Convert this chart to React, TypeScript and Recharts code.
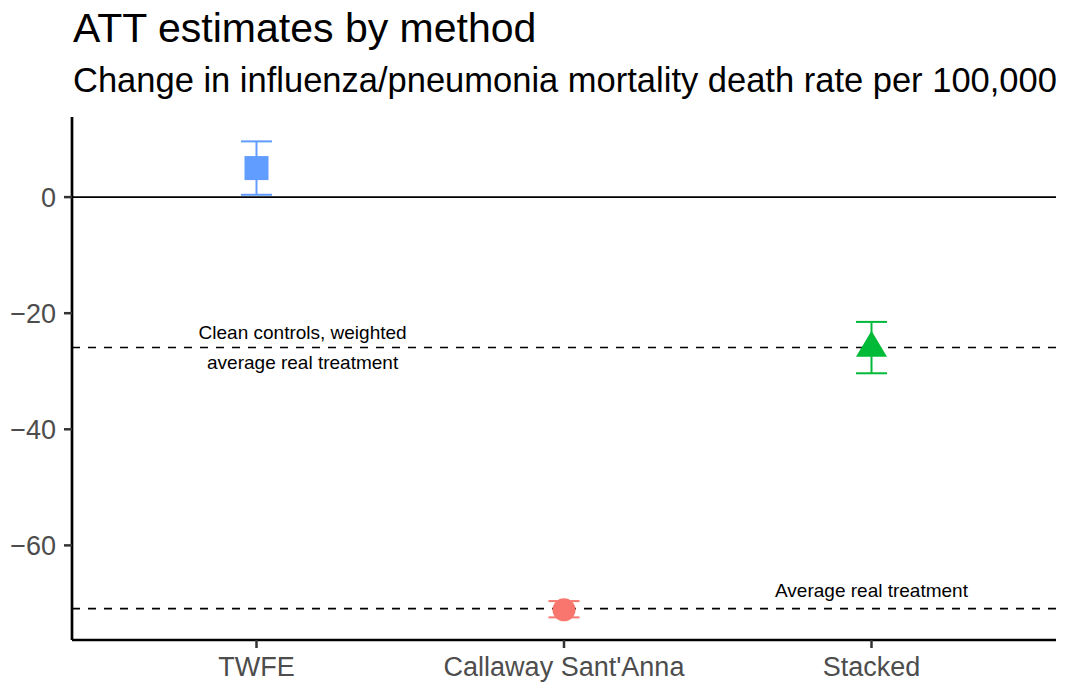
import React from 'react';
import { ComposedChart, Scatter, XAxis, YAxis, ReferenceLine, ErrorBar } from 'recharts';

// values
const methods = ['TWFE', "Callaway Sant'Anna", 'Stacked'];
const estimates = [5.0, -71.1, -26.0];
const lowerCI = [0.4, -72.4, -30.35];
const upperCI = [9.6, -69.6, -21.5];
const colors = ['#619CFF', '#F8766D', '#00BA38'];
const yTicks = [-60, -40, -20, 0];
const cleanControlsATT = -25.9;
const averageRealATT = -70.9;
const annotations = [
  { x: 1.15, y: -23.4, text: 'Clean controls, weighted' },
  { x: 1.15, y: -28.5, text: 'average real treatment' },
  { x: 3, y: -67.8, text: 'Average real treatment' },
];

const FONT = '"Liberation Sans", Arial, Helvetica, sans-serif';

const seriesData = methods.map((m, i) => [
  {
    x: i + 1,
    y: estimates[i],
    err: [estimates[i] - lowerCI[i], upperCI[i] - estimates[i]],
  },
]);

const makeShape = (idx: number) => (props: any) => {
  const { cx, cy } = props;
  const c = colors[idx];
  if (idx === 0) return <rect x={cx - 12} y={cy - 12} width={24} height={24} fill={c} />;
  if (idx === 1) return <circle cx={cx} cy={cy} r={11.5} fill={c} />;
  const h = 26;
  const w = 31;
  const pts = `${cx},${cy - (2 * h) / 3} ${cx + w / 2},${cy + h / 3} ${cx - w / 2},${cy + h / 3}`;
  return <polygon points={pts} fill={c} />;
};

const AnnotationText = (props: any) => {
  const { cx, cy, payload } = props;
  return (
    <text x={cx} y={cy} textAnchor="middle" dominantBaseline="central" fontSize={19} fill="#000" fontFamily={FONT}>
      {payload.text}
    </text>
  );
};

const fmtY = (v: number) => (v < 0 ? '\u2212' + Math.abs(v) : String(v));

export default function App() {
  return (
    <div style={{ position: 'absolute', left: 0, top: 0, width: 1066, height: 683, background: '#fff', fontFamily: FONT }}>
      <ComposedChart width={1066} height={683} margin={{ top: 117, right: 10, bottom: 0, left: 0 }}>
        <XAxis
          type="number"
          dataKey="x"
          domain={[0.4, 3.6]}
          ticks={[1, 2, 3]}
          interval={0}
          tickFormatter={(v: number) => methods[v - 1]}
          height={43}
          axisLine={{ stroke: '#000', strokeWidth: 2.7 }}
          tickLine={{ stroke: '#333', strokeWidth: 2.5 }}
          tickSize={8}
          tickMargin={9}
          tick={{ fill: '#4D4D4D', fontSize: 27 }}
        />
        <YAxis
          type="number"
          dataKey="y"
          domain={[-76.3, 13.8]}
          ticks={yTicks}
          interval={0}
          tickFormatter={fmtY}
          width={72}
          axisLine={{ stroke: '#000', strokeWidth: 2.7 }}
          tickLine={{ stroke: '#333', strokeWidth: 2.5 }}
          tickSize={8}
          tickMargin={8}
          tick={{ fill: '#4D4D4D', fontSize: 27 }}
        />
        <ReferenceLine y={0} stroke="#000" strokeWidth={1.6} />
        <ReferenceLine y={cleanControlsATT} stroke="#000" strokeWidth={1.6} strokeDasharray="8 8" />
        <ReferenceLine y={averageRealATT} stroke="#000" strokeWidth={1.6} strokeDasharray="8 8" />
        {seriesData.map((d, i) => (
          <Scatter key={methods[i]} data={d} dataKey="y" fill={colors[i]} shape={makeShape(i)} isAnimationActive={false}>
            <ErrorBar dataKey="err" direction="y" width={15.5} stroke={colors[i]} strokeWidth={2} isAnimationActive={false} />
          </Scatter>
        ))}
        <Scatter data={annotations} dataKey="y" shape={AnnotationText} isAnimationActive={false} />
      </ComposedChart>
      <svg width={1066} height={110} style={{ position: 'absolute', left: 0, top: 0, pointerEvents: 'none' }}>
        <text x={73} y={42} fontSize={41} fill="#000" fontFamily={FONT}>
          ATT estimates by method
        </text>
        <text x={73} y={92} fontSize={34.5} fill="#000" fontFamily={FONT}>
          Change in influenza/pneumonia mortality death rate per 100,000
        </text>
      </svg>
    </div>
  );
}
